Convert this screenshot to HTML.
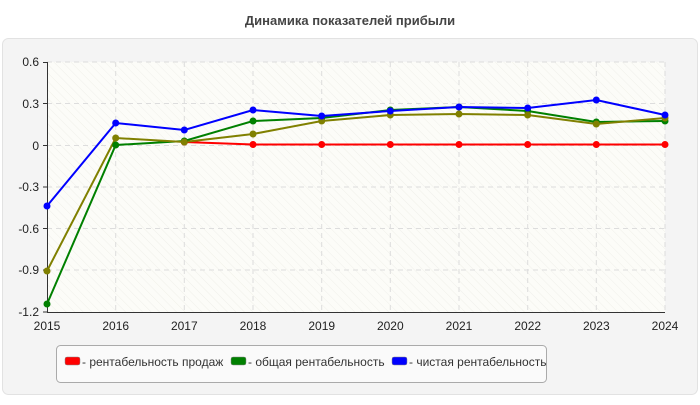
<!DOCTYPE html>
<html><head><meta charset="utf-8"><style>
body{margin:0;background:#fff;width:700px;height:400px;overflow:hidden;font-family:"Liberation Sans",sans-serif}
</style></head><body>
<svg width="700" height="400" xmlns="http://www.w3.org/2000/svg" font-family="Liberation Sans, sans-serif">
<defs><pattern id="h" width="6" height="6" patternUnits="userSpaceOnUse" patternTransform="rotate(-45)"><rect width="6" height="6" fill="#fcfcf8"/><line x1="0" y1="0" x2="0" y2="6" stroke="#f0f0ea" stroke-width="1"/></pattern></defs>
<text x="350" y="25" text-anchor="middle" font-size="13" font-weight="bold" fill="#444">Динамика показателей прибыли</text>
<rect x="2.5" y="38.5" width="695" height="356" rx="6" fill="#f4f4f4" stroke="#e2e2e2"/>
<rect x="47" y="62" width="618" height="250" fill="url(#h)"/>
<g stroke="#ddd" stroke-dasharray="5,4">
<line x1="47" y1="103.5" x2="665" y2="103.5"/><line x1="47" y1="145.5" x2="665" y2="145.5"/><line x1="47" y1="187" x2="665" y2="187"/><line x1="47" y1="228.5" x2="665" y2="228.5"/><line x1="47" y1="270" x2="665" y2="270"/><line x1="47" y1="62" x2="665" y2="62"/>
<line x1="115.7" y1="62" x2="115.7" y2="312"/><line x1="184.3" y1="62" x2="184.3" y2="312"/><line x1="253" y1="62" x2="253" y2="312"/><line x1="321.7" y1="62" x2="321.7" y2="312"/><line x1="390.3" y1="62" x2="390.3" y2="312"/><line x1="459" y1="62" x2="459" y2="312"/><line x1="527.7" y1="62" x2="527.7" y2="312"/><line x1="596.3" y1="62" x2="596.3" y2="312"/><line x1="665" y1="62" x2="665" y2="312"/>
</g>
<g stroke="#333"><line x1="47.5" y1="62" x2="47.5" y2="312"/><line x1="47" y1="312.5" x2="665" y2="312.5"/>
<line x1="43" y1="62.5" x2="47" y2="62.5"/><line x1="43" y1="103.5" x2="47" y2="103.5"/><line x1="43" y1="145.5" x2="47" y2="145.5"/><line x1="43" y1="187" x2="47" y2="187"/><line x1="43" y1="228.5" x2="47" y2="228.5"/><line x1="43" y1="270" x2="47" y2="270"/><line x1="43" y1="312" x2="47" y2="312"/></g>
<g font-size="12" fill="#222" text-anchor="end">
<text x="39" y="66">0.6</text><text x="39" y="108">0.3</text><text x="39" y="150">0</text><text x="39" y="191">-0.3</text><text x="39" y="233">-0.6</text><text x="39" y="274">-0.9</text><text x="39" y="316">-1.2</text></g>
<g font-size="12" fill="#222" text-anchor="middle">
<text x="47" y="330">2015</text><text x="115.7" y="330">2016</text><text x="184.3" y="330">2017</text><text x="253" y="330">2018</text><text x="321.7" y="330">2019</text><text x="390.3" y="330">2020</text><text x="459" y="330">2021</text><text x="527.7" y="330">2022</text><text x="596.3" y="330">2023</text><text x="665" y="330">2024</text></g>
<g fill="none" stroke-width="2">
<polyline stroke="#f00" points="184.3,142 253,144.5 321.7,144.5 390.3,144.5 459,144.5 527.7,144.5 596.3,144.5 665,144.5"/>
<polyline stroke="#008000" points="47,304 115.7,145 184.3,141 253,121 321.7,118 390.3,110 459,107 527.7,111 596.3,122 665,121"/>
<polyline stroke="#808000" points="47,271 115.7,138 184.3,142 253,134 321.7,121 390.3,115 459,114 527.7,115 596.3,124 665,118"/>
<polyline stroke="#00f" points="47,206 115.7,123 184.3,130 253,110 321.7,116 390.3,111 459,107 527.7,108 596.3,100 665,115"/>
</g>
<g fill="#f00"><circle cx="184.3" cy="142" r="3.5"/><circle cx="253" cy="144.5" r="3.5"/><circle cx="321.7" cy="144.5" r="3.5"/><circle cx="390.3" cy="144.5" r="3.5"/><circle cx="459" cy="144.5" r="3.5"/><circle cx="527.7" cy="144.5" r="3.5"/><circle cx="596.3" cy="144.5" r="3.5"/><circle cx="665" cy="144.5" r="3.5"/></g>
<g fill="#008000"><circle cx="47" cy="304" r="3.5"/><circle cx="115.7" cy="145" r="3.5"/><circle cx="184.3" cy="141" r="3.5"/><circle cx="253" cy="121" r="3.5"/><circle cx="321.7" cy="118" r="3.5"/><circle cx="390.3" cy="110" r="3.5"/><circle cx="459" cy="107" r="3.5"/><circle cx="527.7" cy="111" r="3.5"/><circle cx="596.3" cy="122" r="3.5"/><circle cx="665" cy="121" r="3.5"/></g>
<g fill="#808000"><circle cx="47" cy="271" r="3.5"/><circle cx="115.7" cy="138" r="3.5"/><circle cx="184.3" cy="142" r="3.5"/><circle cx="253" cy="134" r="3.5"/><circle cx="321.7" cy="121" r="3.5"/><circle cx="390.3" cy="115" r="3.5"/><circle cx="459" cy="114" r="3.5"/><circle cx="527.7" cy="115" r="3.5"/><circle cx="596.3" cy="124" r="3.5"/><circle cx="665" cy="118" r="3.5"/></g>
<g fill="#00f"><circle cx="47" cy="206" r="3.5"/><circle cx="115.7" cy="123" r="3.5"/><circle cx="184.3" cy="130" r="3.5"/><circle cx="253" cy="110" r="3.5"/><circle cx="321.7" cy="116" r="3.5"/><circle cx="390.3" cy="111" r="3.5"/><circle cx="459" cy="107" r="3.5"/><circle cx="527.7" cy="108" r="3.5"/><circle cx="596.3" cy="100" r="3.5"/><circle cx="665" cy="115" r="3.5"/></g>
<rect x="56.5" y="345.5" width="490" height="37" rx="4" fill="#fafafa" stroke="#aaa"/>
<rect x="65" y="357" width="15" height="8" rx="2" fill="#f00" stroke="#888" stroke-width="0.5"/>
<rect x="231" y="357" width="15" height="8" rx="2" fill="#008000" stroke="#888" stroke-width="0.5"/>
<rect x="392" y="357" width="15" height="8" rx="2" fill="#00f" stroke="#888" stroke-width="0.5"/>
<g font-size="12" fill="#333"><text x="82" y="366">- рентабельность продаж</text><text x="248" y="366">- общая рентабельность</text><text x="409" y="366">- чистая рентабельность</text></g>
</svg>
</body></html>
